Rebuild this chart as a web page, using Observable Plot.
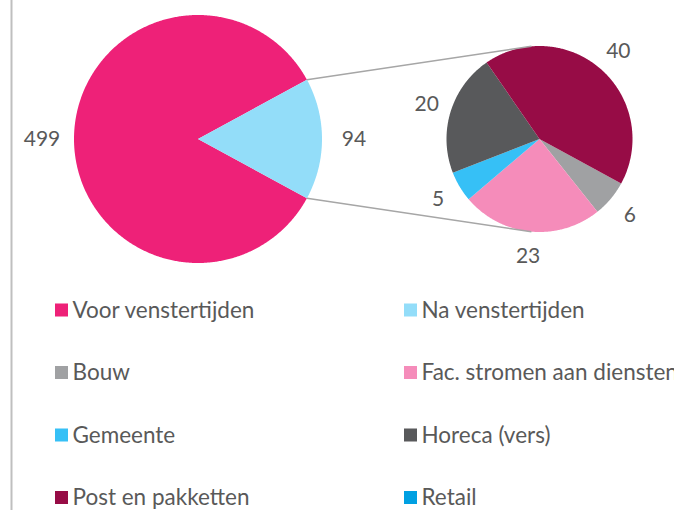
<!DOCTYPE html>
<html><head><meta charset="utf-8">
<script src="https://cdn.jsdelivr.net/npm/d3@7"></script>
<script src="https://cdn.jsdelivr.net/npm/@observablehq/plot@0.6"></script>
<style>
body{margin:0;background:#fff;}
#chart{width:674px;height:510px;overflow:hidden;}
</style>
</head><body><div id="chart"></div>
<script>
// ---- data ----
const mainCategories = ["Voor venstertijden", "Na venstertijden"];
const mainValues = [499, 94];
const subCategories = ["Bouw", "Fac. stromen aan diensten", "Gemeente", "Horeca (vers)", "Post en pakketten", "Retail"];
const subValues = [6, 23, 5, 20, 40, 0];
const legendOrder = ["Voor venstertijden", "Na venstertijden", "Bouw", "Fac. stromen aan diensten", "Gemeente", "Horeca (vers)", "Post en pakketten", "Retail"];
const legendColors = ["#EE2178", "#93DDF9", "#A0A1A3", "#F58CBA", "#36C0F6", "#58595B", "#970C46", "#00A0E2"];

// ---- layout ----
const W = 674, H = 510;
const mainC = {x: 197.5, y: 138.5, r: 124};
const subC = {x: 539, y: 138.5, r: 93};
const FONT = "Lato, 'Open Sans', sans-serif";
const TXT = "#595959";

const naAngle = 2 * Math.PI * mainValues[1] / d3.sum(mainValues);
const start = Math.PI / 2 + naAngle / 2;

function pt(c, r, a) { return [c.x + r * Math.sin(a), c.y - r * Math.cos(a)]; }

function buildPie(cats, vals, c, labelOff) {
  const arcs = d3.pie().sort(null).startAngle(start).endAngle(start + 2 * Math.PI)(vals);
  const poly = [], labels = [];
  arcs.forEach((a, i) => {
    if (a.value <= 0) return;
    const cat = cats[i];
    const n = Math.max(2, Math.ceil((a.endAngle - a.startAngle) / (Math.PI / 360)));
    poly.push({cat, x: c.x, y: c.y});
    for (let k = 0; k <= n; k++) {
      const ang = a.startAngle + (a.endAngle - a.startAngle) * k / n;
      const [x, y] = pt(c, c.r, ang);
      poly.push({cat, x, y});
    }
    poly.push({cat, x: c.x, y: c.y});
    const mid = (a.startAngle + a.endAngle) / 2;
    const [lx, ly] = pt(c, c.r + labelOff, mid);
    labels.push({cat, value: a.value, x: lx, y: ly});
  });
  return {arcs, poly, labels};
}

const mainPie = buildPie(mainCategories, mainValues, mainC, 32);
const subPie = buildPie(subCategories, subValues, subC, 25);

// connector lines from the "Na" slice to the secondary pie
const naArc = mainPie.arcs[1];
const off = 5 * Math.PI / 180;
const [ax1, ay1] = pt(mainC, mainC.r, naArc.startAngle);
const [bx1, by1] = pt(subC, subC.r, -off);
const [ax2, ay2] = pt(mainC, mainC.r, naArc.endAngle);
const [bx2, by2] = pt(subC, subC.r, Math.PI + off);
const links = [{x1: ax1, y1: ay1, x2: bx1, y2: by1}, {x1: ax2, y1: ay2, x2: bx2, y2: by2}];

// legend entries (2 columns)
const legend = legendOrder.map((cat, i) => {
  const col = i % 2, row = Math.floor(i / 2);
  const x = col === 0 ? 55 : 404;
  const y = 310 + row * 62.5;
  return {cat, x1: x, x2: x + 13, y1: y - 6.5, y2: y + 6.5, tx: x + 17, ty: y};
});

const chart = Plot.plot({
  width: W, height: H,
  margin: 0,
  x: {domain: [0, W], range: [0, W], axis: null},
  y: {domain: [0, H], range: [0, H], axis: null},
  color: {domain: legendOrder, range: legendColors},
  style: {fontFamily: FONT, background: "#fff", overflow: "hidden"},
  marks: [
    Plot.ruleX([11], {stroke: "#BFBFBF", strokeWidth: 2}),
    Plot.line(mainPie.poly, {x: "x", y: "y", z: "cat", fill: "cat", stroke: "none", curve: "linear"}),
    Plot.line(subPie.poly, {x: "x", y: "y", z: "cat", fill: "cat", stroke: "none", curve: "linear"}),
    Plot.link(links, {x1: "x1", y1: "y1", x2: "x2", y2: "y2", stroke: "#A6A6A6", strokeWidth: 1.5}),
    Plot.text(mainPie.labels, {x: "x", y: "y", text: d => String(d.value), fill: TXT, fontSize: 21, textAnchor: "middle"}),
    Plot.text(subPie.labels, {x: "x", y: "y", text: d => String(d.value), fill: TXT, fontSize: 21, textAnchor: "middle"}),
    Plot.rect(legend, {x1: "x1", x2: "x2", y1: "y1", y2: "y2", fill: "cat"}),
    Plot.text(legend, {x: "tx", y: "ty", text: "cat", fill: TXT, fontSize: 22.5, textAnchor: "start"})
  ]
});
document.getElementById("chart").append(chart);
</script>
</body></html>
